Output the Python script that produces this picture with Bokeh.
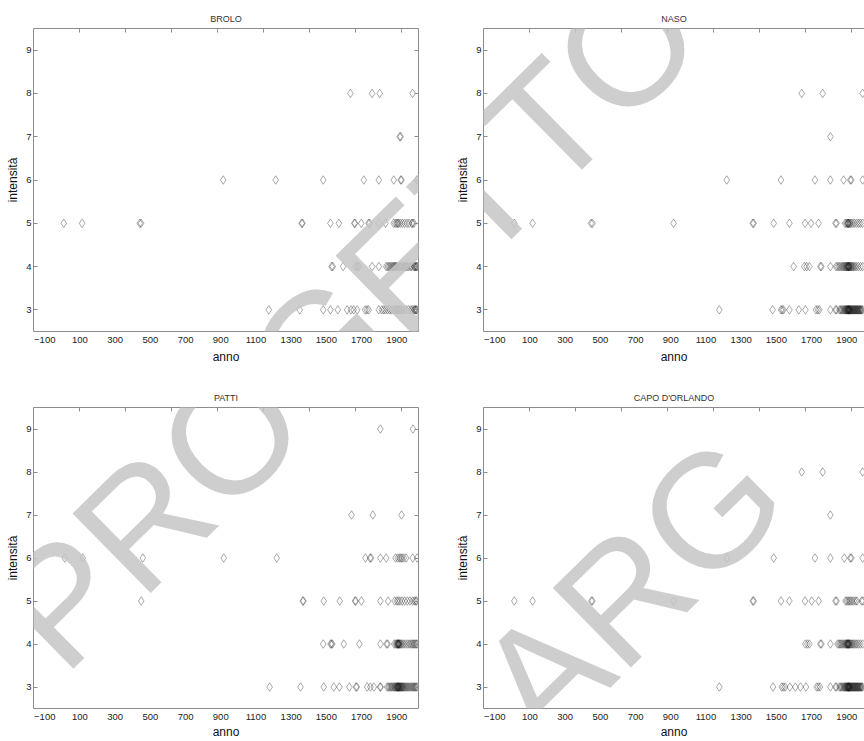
import math
from bokeh.plotting import figure
from bokeh.layouts import column, row
from bokeh.models import Range1d, LinearAxis, FixedTicker, Label
from bokeh.embed import file_html
from bokeh.resources import INLINE

# ---------------- data (anno, intensità) ----------------
TICK_ANNI = [-100, 100, 300, 500, 700, 900, 1100, 1300, 1500, 1700, 1900]
TICK_TOP = [99, 360, 622, 883, 1145, 1406, 1668, 1929]
TICK_INT = [3, 4, 5, 6, 7, 8, 9]

brolo = {
    3: [1173, 1349, 1482, 1523, 1565, 1618, 1640, 1655, 1675, 1720, 1730, 1740, 1798, 1815, 1826,
        1836, 1848, 1860, 1870, 1880, 1890, 1898, 1905, 1912, 1920, 1930, 1942, 1955, 1968, 1980,
        1988, 1997, 2002, 2006, 2010, 2014],
    4: [1530, 1536, 1595, 1665, 1676, 1684, 1760, 1798, 1840, 1848, 1855, 1862, 1870, 1876, 1882,
        1887, 1892, 1897, 1902, 1910, 1917, 1925, 1932, 1940, 1947, 1954, 1959, 1968, 1978, 1985,
        1997, 2001, 2005, 2009, 2013, 2016],
    5: [8, 112, 440, 447, 1360, 1364, 1523, 1571, 1659, 1663, 1698, 1740, 1746, 1798, 1836,
        1883, 1892, 1900, 1905, 1910, 1920, 1932, 1945, 1958, 1970, 1985, 1990, 1997],
    6: [914, 1212, 1482, 1713, 1798, 1883, 1922, 1927, 2014],
    7: [1917, 1922],
    8: [1637, 1760, 1803, 1990],
}

naso = {
    3: [1176, 1479, 1526, 1533, 1540, 1574, 1627, 1665, 1725, 1735, 1744, 1807, 1836, 1842,
        1858, 1865, 1870, 1876, 1882, 1887, 1890, 1894, 1897, 1900, 1903, 1905, 1907, 1908, 1910,
        1912, 1914, 1916, 1918, 1920, 1923, 1926, 1929, 1932, 1935, 1938, 1941, 1944, 1947, 1950,
        1953, 1956, 1959, 1962, 1965, 1968, 1972, 1975, 1978, 1982, 1986, 1990],
    4: [1598, 1659, 1672, 1688, 1750, 1756, 1807, 1839, 1847, 1855, 1862, 1870, 1876, 1882, 1887,
        1892, 1896, 1899, 1902, 1905, 1907, 1909, 1911, 1913, 1915, 1918, 1922, 1926, 1930, 1935,
        1940, 1947, 1955, 1965, 1978, 1990],
    5: [11, 115, 447, 455, 916, 1366, 1371, 1485, 1574, 1663, 1697, 1740, 1836, 1842, 1890, 1897,
        1903, 1906, 1908, 1911, 1915, 1920, 1926, 1935, 1945, 1957, 1968, 1978, 1990],
    6: [1218, 1526, 1719, 1807, 1882, 1920, 1926, 1990],
    7: [1807],
    8: [1644, 1763, 1990],
}

patti = {
    3: [1178, 1353, 1485, 1542, 1574, 1631, 1668, 1673, 1732, 1750, 1770, 1805, 1809,
        1845, 1852, 1858, 1865, 1870, 1876, 1882, 1887, 1891, 1895, 1898, 1901, 1904, 1906, 1908,
        1910, 1912, 1914, 1917, 1920, 1923, 1926, 1929, 1932, 1936, 1940, 1945, 1950, 1955, 1960,
        1966, 1972, 1978, 1984, 1990, 1995, 2000, 2005, 2010, 2015],
    4: [1482, 1524, 1529, 1534, 1599, 1688, 1807, 1842, 1848, 1885, 1893, 1898, 1902, 1905, 1907,
        1909, 1911, 1913, 1916, 1920, 1925, 1932, 1940, 1950, 1960, 1970, 1978, 1985, 1992, 1998,
        2004, 2010, 2015],
    5: [448, 1366, 1370, 1485, 1576, 1663, 1667, 1699, 1807, 1851, 1888, 1900, 1908, 1918, 1930,
        1945, 1960, 1975, 1990, 2000, 2008, 2012],
    6: [14, 116, 457, 917, 1218, 1722, 1748, 1754, 1807, 1840, 1893, 1905, 1915, 1922, 1930,
        1940, 1953, 1991, 2016],
    7: [1643, 1764, 1927],
    9: [1807, 1992],
}

capo = {
    3: [1176, 1481, 1531, 1540, 1550, 1577, 1608, 1637, 1668, 1729, 1738, 1748, 1807, 1836, 1842,
        1858, 1865, 1870, 1876, 1882, 1887, 1890, 1894, 1897, 1900, 1903, 1905, 1907, 1908, 1910,
        1912, 1914, 1916, 1918, 1920, 1923, 1926, 1929, 1932, 1935, 1938, 1941, 1944, 1947, 1950,
        1953, 1956, 1959, 1962, 1965, 1968, 1972, 1975, 1978, 1982, 1986, 1990],
    4: [1665, 1676, 1688, 1750, 1756, 1807, 1848, 1855, 1862, 1868, 1875, 1882, 1888, 1893, 1897,
        1900, 1903, 1905, 1907, 1909, 1911, 1913, 1916, 1920, 1925, 1930, 1936, 1943, 1950, 1958,
        1968, 1978, 1990],
    5: [11, 115, 449, 455, 916, 1366, 1371, 1526, 1574, 1663, 1701, 1740, 1836, 1842, 1893, 1900,
        1908, 1915, 1922, 1930, 1940, 1950, 1958, 1985, 1992],
    6: [1218, 1485, 1719, 1807, 1886, 1920, 1926, 1990],
    7: [1807],
    8: [1644, 1763, 1990],
}

LOCALITA = [("BROLO", brolo), ("NASO", naso), ("PATTI", patti), ("CAPO D'ORLANDO", capo)]

WATERMARK = ["PROGETTO", "CARG"]

# ---------------- layout ----------------
X0 = -164.0          # anno at the left edge of each frame
KX = 0.176           # pixels per anno
Y0, Y1 = 2.5, 9.5
FONT = "Liberation Sans"
AXIS_GREY = "#8c8c8c"

# (canvas x, canvas y, width, height, min_border left/right/top/bottom,
#  has right axis, x-axis-label standoff)
SPECS = [
    (0, 0, 450, 375, 33, 32, 28, 44, True, 4),
    (450, 0, 414, 375, 33, 0, 28, 44, False, 4),
    (0, 375, 450, 366, 33, 32, 32, 32, True, 2),
    (450, 375, 414, 366, 33, 0, 32, 32, False, 2),
]

# watermark: middle-of-line anchors (canvas px) and angle
WM_ANCHORS = [(24, 638), (421, 795)]
WM_ANGLE = math.radians(44.5)


def style_axis(ax):
    ax.axis_line_color = AXIS_GREY
    ax.major_tick_line_color = AXIS_GREY
    ax.minor_tick_line_color = None
    ax.major_label_text_font = FONT
    ax.major_label_text_font_size = "9.5px"
    ax.major_label_text_color = "#222222"
    ax.axis_label_text_font = FONT
    ax.axis_label_text_font_style = "normal"
    ax.axis_label_text_font_size = "12px"
    ax.axis_label_text_color = "#111111"


def hide_labels(ax, ticks):
    ax.major_label_overrides = {t: "" for t in ticks}
    ax.major_label_text_font_size = "0px"
    ax.major_label_standoff = 0


def make_plot(name, data, spec):
    cx, cy, w, h, mbl, mbr, mbt, mbb, has_right, xl_standoff = spec
    fw = w - mbl - mbr
    fh = h - mbt - mbb
    p = figure(width=w, height=h, output_backend="svg", toolbar_location=None,
               x_range=Range1d(X0, X0 + fw / KX), y_range=Range1d(Y0, Y1),
               min_border_left=mbl, min_border_right=mbr,
               min_border_top=mbt, min_border_bottom=mbb)
    p.outline_line_color = None
    p.grid.visible = False
    p.background_fill_color = "white"
    p.border_fill_color = "white"

    p.title.text = name
    p.title.align = "center"
    p.title.text_font = FONT
    p.title.text_font_size = "9px"
    p.title.text_font_style = "normal"
    p.title.text_color = "#333333"
    p.title.standoff = 9

    xs, ys = [], []
    for inten, anni in data.items():
        xs.extend(anni)
        ys.extend([inten] * len(anni))
    p.scatter(xs, ys, marker="diamond", size=8.5, fill_color=None,
              line_color="black", line_alpha=0.4, line_width=0.85)

    xa = p.xaxis[0]
    style_axis(xa)
    xa.ticker = FixedTicker(ticks=TICK_ANNI)
    xa.major_tick_in = 0
    xa.major_tick_out = 0
    xa.major_label_standoff = 5
    xa.axis_label = "anno"
    xa.axis_label_standoff = xl_standoff

    ya = p.yaxis[0]
    style_axis(ya)
    ya.ticker = FixedTicker(ticks=TICK_INT)
    ya.major_tick_in = 4
    ya.major_tick_out = 0
    ya.major_label_standoff = 2
    ya.axis_label = "intensità"
    ya.axis_label_standoff = 3

    top = LinearAxis(ticker=FixedTicker(ticks=TICK_TOP))
    style_axis(top)
    hide_labels(top, TICK_TOP)
    top.major_tick_in = 4
    top.major_tick_out = 0
    p.add_layout(top, "above")

    if has_right:
        ra = LinearAxis(ticker=FixedTicker(ticks=TICK_INT))
        style_axis(ra)
        hide_labels(ra, TICK_INT)
        ra.major_tick_in = 4
        ra.major_tick_out = 0
        p.add_layout(ra, "right")

    # watermark, anchored at fixed canvas positions shared by all four panels
    ky = fh / (Y1 - Y0)
    for word, (px, py) in zip(WATERMARK, WM_ANCHORS):
        dx = X0 + (px - cx - mbl) / KX
        dy = Y1 - (py - cy - mbt) / ky
        p.add_layout(Label(x=dx, y=dy, text=word, angle=WM_ANGLE, text_align="left",
                           text_baseline="middle", text_font=FONT,
                           text_font_style="normal", text_font_size="162px",
                           text_color="#c6c6c6", text_alpha=0.85))
    return p


plots = [make_plot(n, d, s) for (n, d), s in zip(LOCALITA, SPECS)]
layout = column(row(plots[0], plots[1]), row(plots[2], plots[3]))

open("out.html", "w").write(file_html(layout, INLINE))
